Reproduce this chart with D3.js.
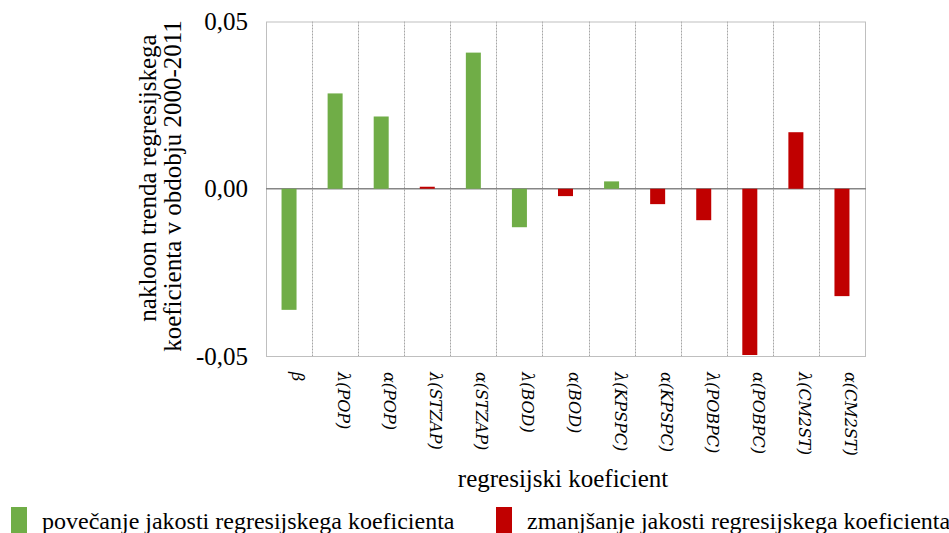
<!DOCTYPE html>
<html>
<head>
<meta charset="utf-8">
<script src="https://cdn.jsdelivr.net/npm/d3@7"></script>
<style>
  html, body { margin: 0; padding: 0; background: #fff; }
  svg { display: block; }
</style>
</head>
<body>
<svg id="chart" width="949" height="533"></svg>
<script>
// Regression coefficients and trend slopes over 2000-2011
const categories = ["β", "λ(POP)", "α(POP)", "λ(STZAP)", "α(STZAP)", "λ(BOD)", "α(BOD)",
  "λ(KPSPC)", "α(KPSPC)", "λ(POBPC)", "α(POBPC)", "λ(CM2ST)", "α(CM2ST)"];
const slopes = [-0.0362, 0.0285, 0.0216, 0.0006, 0.0407, -0.0115, -0.0022,
  0.0022, -0.0046, -0.0094, -0.0497, 0.0169, -0.0321];
// 1 = coefficient strength increases, 0 = decreases
const increasing = [1, 1, 1, 0, 1, 1, 0, 1, 0, 0, 0, 0, 0];
const yTicks = [-0.05, 0, 0.05];
const legendLabels = ["povečanje jakosti regresijskega koeficienta",
  "zmanjšanje jakosti regresijskega koeficienta"];
const colors = ["#c00000", "#70ad47"];

const svg = d3.select("#chart");
const m = { left: 266, right: 865, top: 21.5, bottom: 356 };
const serif = "'Liberation Serif', 'Times New Roman', serif";
const fs = 25;

const x = d3.scaleBand().domain(categories).range([m.left, m.right]);
const y = d3.scaleLinear().domain([-0.05, 0.05]).range([m.bottom, m.top]);
const fmt = v => d3.format(".2f")(v).replace(".", ",").replace("−", "-");

// vertical dotted separators between categories
svg.append("g").selectAll("line")
  .data(categories.slice(1))
  .join("line")
  .attr("x1", d => Math.round(x(d)) + 0.5).attr("x2", d => Math.round(x(d)) + 0.5)
  .attr("y1", m.top).attr("y2", m.bottom)
  .attr("stroke", "#a6a6a6").attr("stroke-width", 1)
  .attr("stroke-dasharray", "2,1");

// plot frame
svg.append("rect")
  .attr("x", m.left + 0.5).attr("y", m.top + 0.5)
  .attr("width", m.right - m.left).attr("height", m.bottom - m.top)
  .attr("fill", "none").attr("stroke", "#bfbfbf").attr("stroke-width", 1);

// zero line
svg.append("line")
  .attr("x1", m.left).attr("x2", m.right + 1)
  .attr("y1", y(0)).attr("y2", y(0))
  .attr("stroke", "#868686").attr("stroke-width", 1.6);

// bars
const bw = 15;
svg.append("g").selectAll("rect")
  .data(categories.map((c, i) => ({ c, v: slopes[i], inc: increasing[i] })))
  .join("rect")
  .attr("x", d => x(d.c) + x.bandwidth() / 2 - bw / 2)
  .attr("y", d => y(Math.max(0, d.v)))
  .attr("width", bw)
  .attr("height", d => Math.max(1, Math.abs(y(d.v) - y(0))))
  .attr("fill", d => d.inc ? colors[1] : colors[0]);

// y axis labels
const yAxis = d3.axisLeft(y).tickValues(yTicks).tickFormat(fmt).tickSize(0).tickPadding(18);
const gy = svg.append("g").attr("transform", `translate(${m.left},0)`).call(yAxis);
gy.select(".domain").remove();
gy.selectAll("text")
  .attr("font-family", serif).attr("font-size", fs).attr("fill", "#000")
  .attr("dy", "0.32em");

// x axis labels, rotated to read downward
const xAxis = d3.axisBottom(x).tickSize(0).tickPadding(0);
const gx = svg.append("g").attr("transform", `translate(0,${m.bottom})`).call(xAxis);
gx.select(".domain").remove();
gx.selectAll("text")
  .attr("font-family", "'DejaVu Serif', serif").attr("font-style", "italic")
  .attr("font-size", 16).attr("fill", "#000")
  .attr("text-anchor", "start")
  .attr("dy", null).attr("y", 0)
  .attr("transform", "translate(3,16) rotate(90)");

// axis titles
svg.append("text")
  .attr("transform", "translate(156,178) rotate(-90)")
  .attr("text-anchor", "middle")
  .attr("font-family", serif).attr("font-size", fs)
  .text("nakloon trenda regresijskega");
svg.append("text")
  .attr("transform", "translate(181,186) rotate(-90)")
  .attr("text-anchor", "middle")
  .attr("font-family", serif).attr("font-size", fs)
  .text("koeficienta v obdobju 2000-2011");
svg.append("text")
  .attr("x", 563).attr("y", 487)
  .attr("text-anchor", "middle")
  .attr("font-family", serif).attr("font-size", fs)
  .text("regresijski koeficient");

// legend
const legend = svg.append("g").selectAll("g")
  .data(legendLabels.map((t, i) => ({ t, c: i === 0 ? colors[1] : colors[0], x: i === 0 ? 11 : 496 })))
  .join("g");
legend.append("rect")
  .attr("x", d => d.x).attr("y", 507).attr("width", 16).attr("height", 26)
  .attr("fill", d => d.c);
legend.append("text")
  .attr("x", d => d.x + 31).attr("y", 529)
  .attr("font-family", serif).attr("font-size", 24)
  .text(d => d.t);
</script>
</body>
</html>
